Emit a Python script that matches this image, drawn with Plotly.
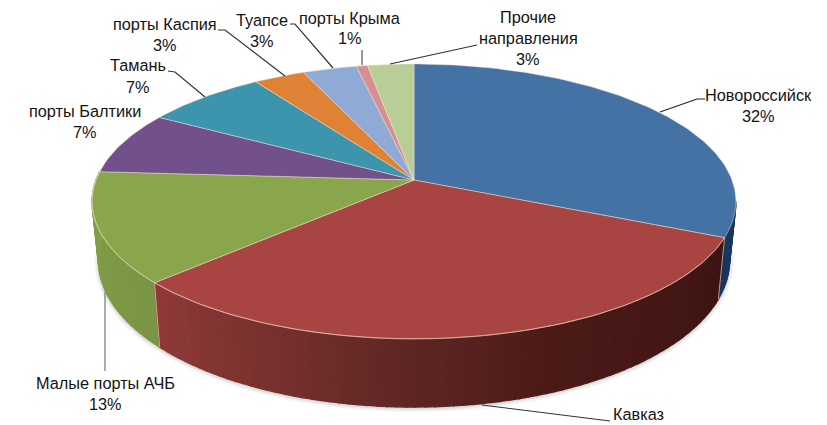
import numpy as np
import plotly.graph_objects as go

# доли направлений, по часовой стрелке от 12 часов
names = ["Новороссийск", "Кавказ", "Малые порты АЧБ", "порты Балтики", "Тамань",
         "порты Каспия", "Туапсе", "порты Крыма", "Прочие направления"]
values = [31.6, 31.4, 13, 7.4, 7.1, 3, 3.15, 0.65, 2.7]
top_colors = ["#4472a4", "#a84442", "#8aa64c", "#71508c", "#3d94ad",
              "#df8235", "#8faad4", "#d58f8f", "#b9cd96"]
side_stops = {
    0: ["#17375e", "#17375e"],
    1: ["#3d1512", "#451815", "#4c1b18", "#5f2724", "#7a322f", "#8f3b38"],
    2: ["#7a9644", "#84a04a"],
}

# подписи: строки и положение центра каждой строки
labels = [
    (["Новороссийск", "32%"], 758, [95, 116]),
    (["Кавказ"], 638, [414]),
    (["Малые порты АЧБ", "13%"], 105, [383, 404]),
    (["порты Балтики", "7%"], 85, [111, 132]),
    (["Тамань", "7%"], 138, [65, 87]),
    (["порты Каспия", "3%"], 165, [24, 45]),
    (["Туапсе", "3%"], 262, [20, 41]),
    (["порты Крыма", "1%"], 350, [18, 38]),
    (["Прочие", "направления", "3%"], 528, [17, 38, 59]),
]
leaders = [
    ([705, 697, 660], [99, 99, 112], "#222222"),
    ([610, 482], [421, 405], "#333333"),
    ([105, 105], [371, 292], "#777777"),
    ([168, 175, 205], [71, 72, 97], "#333333"),
    ([218, 225, 285], [30, 30, 76], "#333333"),
    ([290, 295, 333], [24, 24, 68], "#333333"),
    ([362, 362], [50, 65], "#555555"),
    ([477, 390], [45, 64], "#333333"),
]

# геометрия перспективы
CX, CY = 414, 180
R, RB, K = 318, 134.1, 0.156
DEPTH, BOTTOM_X = 57.5, 0.98


def project(deg, radius=1.0, low=False):
    a = np.radians(deg)
    u, v = radius * np.sin(a), -radius * np.cos(a)
    s = 1 / (1 - K * v)
    x = R * u * s
    y = CY + RB * v * s
    if low:
        return CX + x * BOTTOM_X, y + DEPTH * s
    return CX + x, y


def hex_rgb(c):
    return [int(c[i:i + 2], 16) for i in (1, 3, 5)]


def shade(stops, f):
    pos = f * (len(stops) - 1)
    i = min(int(pos), len(stops) - 2)
    a, b = hex_rgb(stops[i]), hex_rgb(stops[i + 1])
    m = pos - i
    return "rgb(%d,%d,%d)" % tuple(a[j] + (b[j] - a[j]) * m for j in range(3))


def poly(x, y, fill, line=None, width=0.8):
    return go.Scatter(x=list(x), y=list(y), mode="lines", fill="toself", fillcolor=fill,
                      line=dict(color=line or fill, width=width), hoverinfo="skip")


edges = np.concatenate([[0], np.cumsum(values)]) / sum(values) * 360
fig = go.Figure()

# мягкая тень под нижней кромкой
arc = np.linspace(90, 285, 120)
bx, by = project(arc, low=True)
for w, op in ((9, 0.035), (6, 0.05), (3, 0.08)):
    fig.add_trace(go.Scatter(x=bx, y=by + 1, mode="lines", hoverinfo="skip",
                             line=dict(color="rgba(40,40,40,%s)" % op, width=w)))

# боковая стенка: только видимая часть
VIS_FROM, VIS_TO = 99, 276
for i in (0, 2, 1):
    a0, a1 = max(edges[i], VIS_FROM), min(edges[i + 1], VIS_TO)
    steps = np.arange(a0, a1, 1.5).tolist() + [a1]
    for p, q in zip(steps[:-1], steps[1:]):
        tx, ty = project(np.array([p, q]))
        lx, ly = project(np.array([q, p]), low=True)
        col = shade(side_stops[i], ((p + q) / 2 - a0) / (a1 - a0))
        fig.add_trace(poly(np.r_[tx, lx, tx[0]], np.r_[ty, ly, ty[0]], col, width=1.4))

# верхняя грань
for i, col in enumerate(top_colors):
    ang = np.linspace(edges[i], edges[i + 1], max(int(values[i] * 4), 8))
    x, y = project(ang)
    fig.add_trace(poly(np.r_[CX, x, CX], np.r_[CY, y, CY], col, "rgba(240,225,210,0.6)", 0.8))

# светлая кромка спереди и стыки на стенке
x, y = project(np.linspace(edges[1], VIS_TO, 100))
fig.add_trace(go.Scatter(x=x, y=y, mode="lines", hoverinfo="skip",
                         line=dict(color="rgba(245,205,185,0.6)", width=1)))
for e in edges[1:3]:
    tx, ty = project(e)
    lx, ly = project(e, low=True)
    fig.add_trace(go.Scatter(x=[tx, lx], y=[ty, ly], mode="lines", hoverinfo="skip",
                             line=dict(color="rgba(240,215,190,0.7)", width=1)))

for lx, ly, col in leaders:
    fig.add_trace(go.Scatter(x=lx, y=ly, mode="lines", hoverinfo="skip",
                             line=dict(color=col, width=1.2)))

for lines, cx, ys in labels:
    for t, y in zip(lines, ys):
        fig.add_annotation(x=cx, y=y, text=t, showarrow=False, xanchor="center", yanchor="middle",
                           font=dict(family="Liberation Sans", size=16.3, color="#141414"))

fig.update_xaxes(range=[0, 827], visible=False, fixedrange=True)
fig.update_yaxes(range=[425, 0], visible=False, fixedrange=True)
fig.update_layout(width=827, height=425, margin=dict(l=0, r=0, t=0, b=0), showlegend=False,
                  paper_bgcolor="white", plot_bgcolor="white")
fig.write_html("out.html", config=dict(displayModeBar=False),
               post_script="document.body.style.margin='0';document.body.style.overflow='hidden';")
